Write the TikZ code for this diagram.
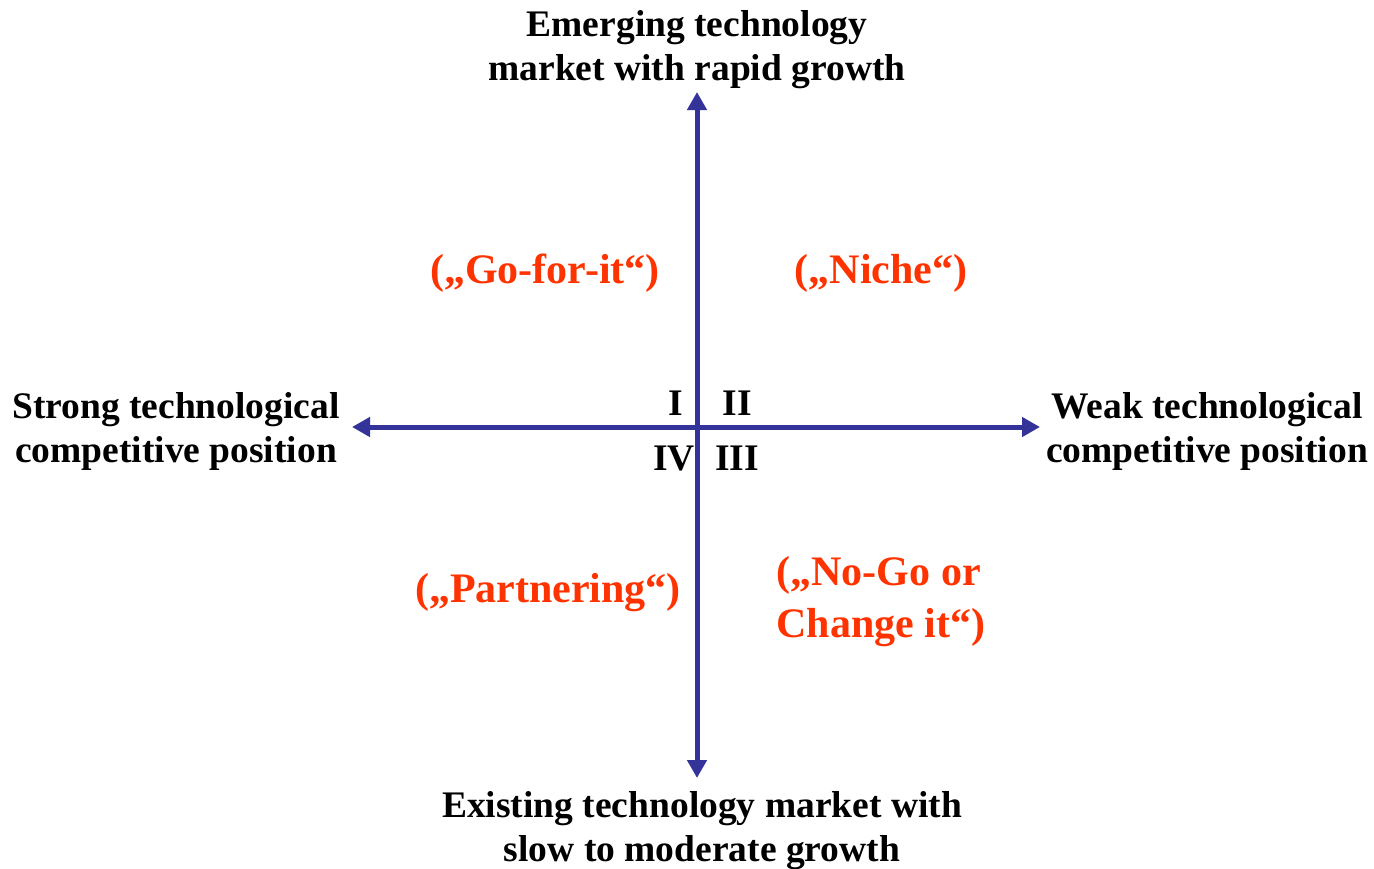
\documentclass[tikz,border=0pt]{standalone}
\usepackage{fontspec}
\setmainfont{Liberation Serif}
\usetikzlibrary{arrows.meta}
\definecolor{axisblue}{HTML}{333399}
\definecolor{quadred}{HTML}{FF3300}
\tikzset{
  axis/.style={draw=axisblue, line width=5pt, {Triangle[length=18pt,width=19pt]}-{Triangle[length=18pt,width=19pt]}},
  lbl/.style={font=\fontsize{37.5}{44}\selectfont\bfseries, align=center, inner sep=0pt, text=black},
  quad/.style={font=\fontsize{42}{52}\selectfont\bfseries, align=left, inner sep=0pt, text=quadred},
  num/.style={font=\fontsize{37.5}{40}\selectfont\bfseries, inner sep=0pt, text=black}
}
\begin{document}
\begin{tikzpicture}[x=1pt,y=-1pt]
\useasboundingbox (0,0) rectangle (1374,868);
\coordinate (top) at (697,92);
\coordinate (bot) at (697,778);
\coordinate (lft) at (352,427);
\coordinate (rgt) at (1040,427);
\draw[axis] (lft) -- (rgt);
\draw[axis] (bot) -- (top);
\node[lbl] (ttl) at (697,50) {Emerging technology\\market with rapid growth};
\node[lbl] (btl) at (702,831) {Existing technology market with\\slow to moderate growth};
\node[lbl] (ltl) at (176,431) {Strong technological\\competitive position};
\node[lbl] (rtl) at (1207,431) {Weak technological\\competitive position};
\node[num] (q1) at (676,403) {I};
\node[num] (q2) at (737,403) {II};
\node[num] (q4) at (674,458) {IV};
\node[num] (q3) at (737,458) {III};
\node[quad] (go) at (545,273) {(„Go-for-it“)};
\node[quad] (ni) at (881,273) {(„Niche“)};
\node[quad] (pa) at (548,593) {(„Partnering“)};
\node[quad] (ng) at (881,602) {(„No-Go or\\Change it“)};
\end{tikzpicture}
\end{document}
